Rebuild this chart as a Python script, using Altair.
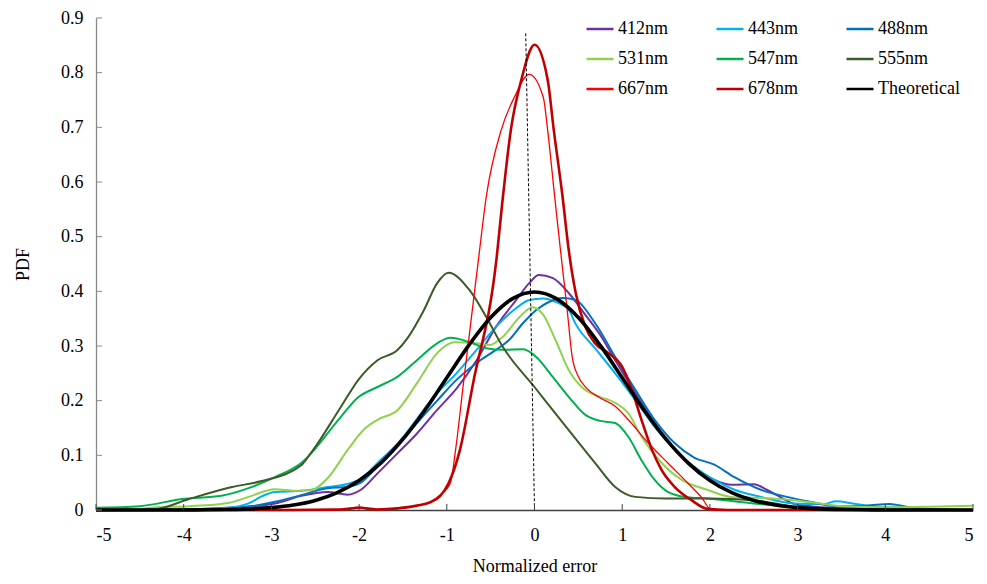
import altair as alt
import pandas as pd

series_names = ["412nm", "443nm", "488nm", "531nm", "547nm", "555nm", "667nm", "678nm", "Theoretical"]
series_colors = ["#7030A0", "#00B0F0", "#0070C0", "#92D050", "#00B050", "#3B5B27", "#FF0000", "#C00000", "#000000"]
series_widths = [2, 2, 2, 2, 2, 2, 1.3, 2.6, 3.6]

x_412 = [-5, -4, -3.5, -2.96, -2.66, -2.36, -2.13, -1.98, -1.79, -1.56, -1.34, -1.11, -0.89, -0.66, -0.44, -0.21, -0.06, 0.05, 0.21, 0.39, 0.58, 0.75, 0.92, 1.15, 1.37, 1.6, 1.82, 2.05, 2.25, 2.5, 2.65, 2.8, 2.95, 3.2, 3.6, 4, 5]
y_412 = [0, 0.001, 0.004, 0.012, 0.026, 0.033, 0.028, 0.037, 0.067, 0.104, 0.14, 0.183, 0.222, 0.274, 0.335, 0.384, 0.415, 0.43, 0.424, 0.397, 0.357, 0.32, 0.274, 0.214, 0.159, 0.11, 0.079, 0.055, 0.046, 0.047, 0.037, 0.024, 0.012, 0.006, 0.003, 0.002, 0]

x_443 = [-5, -4, -3.5, -3.26, -3.11, -2.96, -2.66, -2.36, -2.1, -1.98, -1.79, -1.56, -1.11, -0.89, -0.66, -0.44, -0.21, -0.06, 0.1, 0.24, 0.39, 0.47, 0.69, 0.92, 1.15, 1.37, 1.6, 1.82, 2.05, 2.28, 2.58, 2.95, 3.3, 3.44, 3.63, 3.82, 4.1, 4.5, 5]
y_443 = [0, 0.001, 0.004, 0.012, 0.025, 0.033, 0.035, 0.042, 0.049, 0.057, 0.086, 0.122, 0.214, 0.25, 0.293, 0.335, 0.369, 0.384, 0.387, 0.381, 0.366, 0.34, 0.296, 0.25, 0.201, 0.152, 0.11, 0.079, 0.055, 0.037, 0.024, 0.012, 0.011, 0.016, 0.012, 0.007, 0.005, 0.002, 0]

x_488 = [-5, -3.5, -3.26, -2.96, -2.66, -2.36, -2.13, -1.98, -1.79, -1.56, -1.11, -0.89, -0.66, -0.44, -0.29, -0.13, 0.02, 0.17, 0.32, 0.47, 0.69, 0.92, 1.15, 1.37, 1.6, 1.82, 2.05, 2.28, 2.58, 2.88, 3.14, 3.44, 3.78, 4.05, 4.24, 4.5, 5]
y_488 = [0, 0.002, 0.006, 0.015, 0.027, 0.04, 0.042, 0.05, 0.08, 0.12, 0.2, 0.238, 0.269, 0.293, 0.311, 0.342, 0.366, 0.381, 0.388, 0.384, 0.342, 0.28, 0.22, 0.165, 0.122, 0.096, 0.083, 0.06, 0.037, 0.024, 0.015, 0.007, 0.008, 0.011, 0.006, 0.001, 0]

x_531 = [-5, -4.5, -4.31, -3.94, -3.49, -3.26, -2.96, -2.73, -2.55, -2.36, -2.13, -1.94, -1.79, -1.56, -1.34, -1.11, -0.92, -0.66, -0.51, -0.36, -0.17, -0.02, 0.1, 0.24, 0.39, 0.55, 0.69, 0.92, 1.07, 1.22, 1.45, 1.68, 1.97, 2.24, 2.58, 2.95, 3.26, 3.52, 4.08, 4.5, 5]
y_531 = [0, 0.002, 0.005, 0.007, 0.013, 0.024, 0.038, 0.035, 0.036, 0.058, 0.11, 0.148, 0.165, 0.183, 0.232, 0.287, 0.307, 0.305, 0.302, 0.317, 0.353, 0.371, 0.357, 0.311, 0.256, 0.223, 0.21, 0.196, 0.177, 0.134, 0.086, 0.055, 0.037, 0.024, 0.022, 0.018, 0.012, 0.007, 0.005, 0.006, 0.008]

x_547 = [-5, -4.5, -4.02, -3.57, -3.26, -2.96, -2.66, -2.21, -2.02, -1.79, -1.56, -1.34, -1.11, -0.96, -0.74, -0.55, -0.36, -0.13, 0.02, 0.21, 0.39, 0.58, 0.75, 0.92, 1.07, 1.22, 1.37, 1.52, 1.71, 1.97, 2.5, 3, 3.5, 4, 5]
y_547 = [0.004, 0.007, 0.02, 0.026, 0.04, 0.06, 0.086, 0.17, 0.205, 0.225, 0.244, 0.274, 0.305, 0.315, 0.307, 0.296, 0.293, 0.294, 0.28, 0.243, 0.207, 0.174, 0.163, 0.159, 0.134, 0.091, 0.055, 0.033, 0.024, 0.021, 0.012, 0.005, 0.002, 0, 0]

x_555 = [-5, -4.5, -4.3, -3.94, -3.45, -3.11, -2.66, -2.55, -2.21, -2.0, -1.79, -1.56, -1.45, -1.26, -1.11, -0.98, -0.74, -0.55, -0.36, 0, 0.39, 0.69, 0.92, 1.15, 1.5, 2.0, 2.5, 3.0, 3.5, 4, 5]
y_555 = [0, 0, 0.002, 0.02, 0.042, 0.053, 0.082, 0.104, 0.188, 0.24, 0.274, 0.293, 0.314, 0.366, 0.415, 0.434, 0.402, 0.353, 0.298, 0.225, 0.146, 0.086, 0.042, 0.024, 0.021, 0.021, 0.018, 0.005, 0.001, 0, 0]

x_667 = [-5, -3, -2.2, -2.0, -1.8, -1.56, -1.34, -1.19, -1.08, -0.96, -0.9, -0.81, -0.64, -0.55, -0.38, -0.23, -0.06, 0.1, 0.15, 0.23, 0.3, 0.37, 0.43, 0.5, 0.6, 0.75, 0.92, 1.07, 1.3, 1.52, 1.75, 1.9, 2.02, 2.5, 5]
y_667 = [0, 0, 0.001, 0.005, 0.001, 0.003, 0.008, 0.015, 0.027, 0.049, 0.11, 0.232, 0.457, 0.573, 0.695, 0.755, 0.797, 0.755, 0.695, 0.573, 0.47, 0.37, 0.28, 0.244, 0.222, 0.205, 0.19, 0.165, 0.122, 0.086, 0.049, 0.024, 0, 0, 0]

x_678 = [-5, -3, -2.2, -2.0, -1.8, -1.56, -1.34, -1.19, -1.08, -0.98, -0.85, -0.7, -0.435, -0.36, -0.27, -0.15, 0.0, 0.15, 0.22, 0.32, 0.39, 0.47, 0.58, 0.69, 0.84, 1.0, 1.11, 1.22, 1.34, 1.45, 1.6, 1.79, 1.97, 2.2, 5]
y_678 = [0, 0, 0.001, 0.004, 0.001, 0.003, 0.008, 0.014, 0.025, 0.049, 0.11, 0.232, 0.457, 0.573, 0.695, 0.787, 0.851, 0.787, 0.695, 0.573, 0.476, 0.397, 0.335, 0.305, 0.287, 0.262, 0.22, 0.165, 0.11, 0.073, 0.042, 0.018, 0.002, 0, 0]

x_theo = [-5, -4.75, -4.5, -4.25, -4, -3.75, -3.5, -3.25, -3, -2.75, -2.5, -2.25, -2, -1.75, -1.5, -1.25, -1, -0.75, -0.5, -0.25, 0, 0.25, 0.5, 0.75, 1, 1.25, 1.5, 1.75, 2, 2.25, 2.5, 2.75, 3, 3.25, 3.5, 3.75, 4, 4.25, 4.5, 4.75, 5]
y_theo = [0, 0, 0, 0, 0.0001, 0.0004, 0.0009, 0.002, 0.0044, 0.0091, 0.0175, 0.0317, 0.054, 0.0863, 0.1295, 0.1826, 0.242, 0.3011, 0.3521, 0.3867, 0.3989, 0.3867, 0.3521, 0.3011, 0.242, 0.1826, 0.1295, 0.0863, 0.054, 0.0317, 0.0175, 0.0091, 0.0044, 0.002, 0.0009, 0.0004, 0.0001, 0, 0, 0, 0]

guide_x = [-0.1, 0.0]
guide_y = [0.872, 0.0]

x_ticks = [-5, -4, -3, -2, -1, 0, 1, 2, 3, 4, 5]
y_ticks = [0, 0.1, 0.2, 0.3, 0.4, 0.5, 0.6, 0.7, 0.8, 0.9]

all_x = [x_412, x_443, x_488, x_531, x_547, x_555, x_667, x_678, x_theo]
all_y = [y_412, y_443, y_488, y_531, y_547, y_555, y_667, y_678, y_theo]

rows = []
for k, (name, xs, ys) in enumerate(zip(series_names, all_x, all_y)):
    for i, (a, b) in enumerate(zip(xs, ys)):
        rows.append({"series": name, "x": a, "y": b, "i": i, "w": series_widths[k]})
df = pd.DataFrame(rows)
df_obs = df[df["series"] != "Theoretical"]
df_theo = df[df["series"] == "Theoretical"]

W, H = 877, 492
FONT = "Times New Roman, Liberation Serif, serif"

xscale = alt.Scale(domain=[-5, 5], nice=False, zero=False)
yscale = alt.Scale(domain=[0, 0.9], nice=False)

color_scale = alt.Scale(domain=series_names, range=series_colors)
legend = alt.Legend(orient="none", legendX=489, legendY=-4, columns=3, direction="horizontal",
                    title=None, symbolType="stroke", symbolSize=729, symbolStrokeWidth=2.5,
                    labelFont=FONT, labelFontSize=18, labelColor="#000",
                    labelOffset=3, columnPadding=42, rowPadding=6)

x_enc = alt.X("x:Q", scale=xscale,
              axis=alt.Axis(values=x_ticks, title="Normalized error", ticks=False,
                            labelExpr="datum.value < 0 ? '-' + abs(datum.value) : '' + datum.value",
                            labelPadding=16, titlePadding=13, domainColor="#404040",
                            domainWidth=1.3, grid=False))
y_enc = alt.Y("y:Q", scale=yscale,
              axis=alt.Axis(values=y_ticks, format=".1~f", title="PDF", ticks=False,
                            labelPadding=13, titlePadding=28, domainColor="#888888",
                            domainWidth=1.3, grid=False))

lines = alt.Chart(df_obs).mark_line(interpolate="monotone").encode(
    x=x_enc, y=y_enc,
    color=alt.Color("series:N", scale=color_scale, legend=legend),
    strokeWidth=alt.StrokeWidth("w:Q", scale=None, legend=None),
    detail="series:N",
    order="i:Q",
)
theo = alt.Chart(df_theo).mark_line(interpolate="monotone").encode(
    x=alt.X("x:Q", scale=xscale), y=alt.Y("y:Q", scale=yscale),
    color=alt.Color("series:N", scale=color_scale, legend=legend),
    strokeWidth=alt.StrokeWidth("w:Q", scale=None, legend=None),
    order="i:Q",
)

guide = alt.Chart(pd.DataFrame({"x": guide_x, "y": guide_y})).mark_line(
    color="#000000", strokeWidth=1, strokeDash=[3, 2]
).encode(x=alt.X("x:Q", scale=xscale), y=alt.Y("y:Q", scale=yscale))

xt = alt.Chart(pd.DataFrame({"v": x_ticks})).mark_rule(color="#404040", strokeWidth=1).encode(
    x=alt.X("v:Q", scale=xscale), y=alt.value(H), y2=alt.value(H - 6))
yt = alt.Chart(pd.DataFrame({"v": y_ticks})).mark_rule(color="#888888", strokeWidth=1).encode(
    y=alt.Y("v:Q", scale=yscale), x=alt.value(0), x2=alt.value(6))

chart = alt.layer(lines, theo, guide, xt, yt).properties(
    width=W, height=H,
    autosize=alt.AutoSizeParams(type="none"),
    padding={"left": 88, "top": 10, "right": 6, "bottom": 66},
).configure_view(stroke=None).configure_axis(
    labelFont=FONT, labelFontSize=18, labelColor="#000",
    titleFont=FONT, titleFontSize=18, titleFontWeight="normal", titleColor="#000",
)

chart.save("out.html", embed_options={"renderer": "svg", "actions": False})
